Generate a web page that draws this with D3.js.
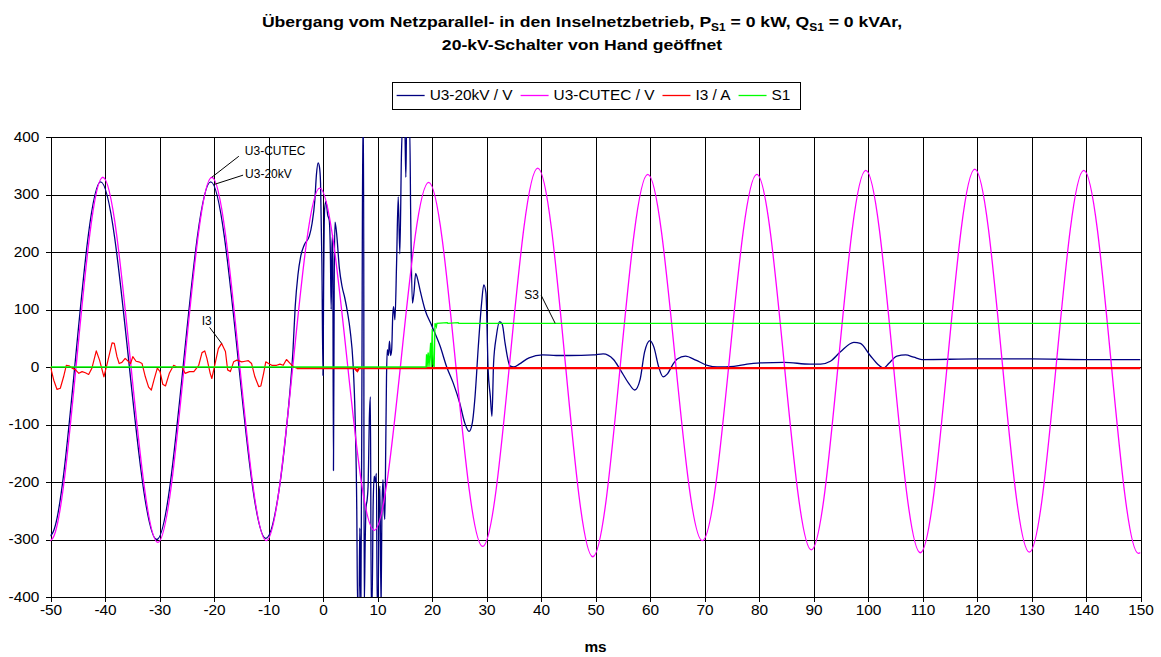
<!DOCTYPE html>
<html>
<head>
<meta charset="utf-8">
<script src="https://cdn.jsdelivr.net/npm/d3@7"></script>
<style>
  body { margin: 0; background: #fff; }
  svg { display: block; }
</style>
</head>
<body>
<svg id="chart" width="1161" height="657"></svg>
<script>
// ---- Tick labels --------------------------------------------------------
const xTickValues = [-50, -40, -30, -20, -10, 0, 10, 20, 30, 40, 50, 60, 70, 80, 90, 100, 110, 120, 130, 140, 150];
const yTickValues = [-400, -300, -200, -100, 0, 100, 200, 300, 400];

// ---- Series (time in ms, value) -----------------------------------------
// U3-CUTEC: voltage extremes of the 50 Hz wave
const u3Cutec = [
  [-50.3, -304], [-49.6, -298], [-40.4, 330], [-30.3, -305], [-20.4, 330], [-10.4, -302], [-0.6, 311],
  [9.4, -284], [19.4, 321], [29.3, -312], [39.4, 346], [49.5, -330], [59.6, 335],
  [69.6, -302], [79.6, 335], [89.6, -318], [99.6, 342], [109.6, -323], [119.6, 344],
  [129.6, -322], [139.6, 342], [149.6, -324], [150, -323]
];

// U3-20kV: grid-side voltage, collapsing after the breaker opens
const u3Grid = [
  [-50.4, -296], [-49.7, -290], [-40.8, 322], [-30.5, -300], [-20.6, 322], [-10.5, -298],
  [-8.0, -210], [-6.8, -115], [-6.0, -35], [-5.5, 30], [-5.1, 105], [-4.6, 160], [-4.1, 192],
  [-3.4, 213], [-2.5, 228], [-2.0, 250], [-1.5, 290], [-1.2, 335], [-0.9, 355], [-0.65, 348],
  [-0.45, 320], [-0.2, 180], [0.0, -15], [0.12, 150], [0.3, 275], [0.55, 288], [0.85, 265],
  [1.15, 255], [1.35, 200], [1.5, 100], [1.65, 210], [1.78, 230], [1.92, -180], [2.06, 150],
  [2.2, 252], [2.5, 232], [3.0, 172], [3.5, 140], [4.0, 120], [4.5, 95], [5.0, 62], [5.5, 8],
  [5.9, -90], [6.2, -250], [6.35, -420], [6.6, -420], [6.75, -280], [6.95, -420], [7.15, 0],
  [7.3, 420], [7.45, 420], [7.55, -420], [7.75, -300], [7.9, -243], [8.1, -231], [8.3, -200],
  [8.5, -90], [8.7, -52], [8.85, -420], [9.0, -420], [9.2, -240], [9.4, -190], [9.6, -200],
  [9.8, -185], [9.95, -420], [10.1, -420], [10.3, -230], [10.45, -207], [10.65, -420],
  [10.8, -260], [11.0, -196], [11.2, -250], [11.35, -265], [11.5, -150], [11.65, -20],
  [11.8, 30], [12.0, 20], [12.2, 45], [12.4, 20], [12.6, 30], [12.8, 90], [12.95, 105],
  [13.2, 82], [13.5, 180], [13.8, 296], [14.1, 197], [14.4, 372], [14.6, 420], [15.0, 420],
  [15.2, 330], [15.35, 420], [15.9, 420], [16.1, 256], [16.4, 111], [16.7, 130], [17.0, 163],
  [17.3, 155], [17.8, 134], [18.7, 100], [20.0, 71], [21.5, 36], [22.7, 0], [23.9, -28],
  [25.1, -63], [26.0, -97], [26.8, -112], [27.4, -97], [27.9, -51], [28.5, 36], [29.1, 111],
  [29.5, 143], [29.9, 129], [30.3, -5], [30.7, -51], [31.0, -86], [31.3, 7], [31.8, 53],
  [32.4, 79], [32.9, 74], [33.4, 42], [34.3, 2], [35.0, 0], [36.0, 5], [37.8, 16], [40.3, 21],
  [42.8, 20], [45.2, 20], [49.6, 21], [51.4, 23], [53.3, 13], [54.5, -4], [56.0, -27],
  [57.2, -40], [58.2, -21], [59.0, 26], [60.0, 46], [60.7, 35], [61.6, 0], [62.4, -17],
  [63.2, -12], [64.1, 3], [65.0, 14], [66.5, 19], [68.4, 12], [70.5, 3], [72.3, 0], [75.4, 1],
  [77.8, 5], [80.3, 7], [84.6, 8], [89.4, 5], [91.3, 5], [93.1, 10], [94.9, 26], [97.4, 43],
  [98.6, 41], [100.4, 20], [102.0, 3], [102.9, -2], [103.8, 6], [105.3, 19], [106.9, 21],
  [108.4, 17], [109.9, 13], [120, 14], [130, 14], [140, 13], [150, 13]
];

// I3: phase current, drops to zero when the breaker opens
const i3 = [
  [-50, 0], [-49.4, -23], [-48.8, -39], [-48.2, -37], [-47.6, -17], [-47.1, 3], [-46.6, 2],
  [-46.0, -2], [-45.4, -5], [-44.8, -11], [-44.2, -8], [-43.6, -10], [-43.0, -13], [-42.4, -2],
  [-41.6, 28], [-41.0, 12], [-40.2, -17], [-39.6, 6], [-38.7, 42], [-38.3, 41], [-37.8, 18],
  [-37.4, 6], [-36.9, 8], [-36.3, 15], [-35.3, 6], [-34.9, 18], [-34.3, 10], [-33.8, 9],
  [-33.2, 6], [-32.6, -17], [-32.0, -35], [-31.5, -40], [-31.0, -22], [-30.4, -2], [-29.9, -8],
  [-29.4, -30], [-28.9, -33], [-28.2, -11], [-27.4, 3], [-26.8, 0], [-25.9, 0], [-25.3, -11],
  [-24.5, -8], [-23.7, -8], [-22.8, 3], [-22.2, 25], [-21.7, 28], [-21.3, 15], [-20.7, -11],
  [-20.4, -20], [-19.8, 6], [-19.2, 32], [-18.6, 41], [-17.9, 27], [-17.5, -5], [-17.0, -8],
  [-16.4, 9], [-15.8, 12], [-14.9, 9], [-14.3, 10], [-13.7, 11], [-13.1, 6], [-12.5, -17],
  [-11.8, -34], [-11.4, -33], [-10.9, -11], [-10.5, 9], [-10.0, 6], [-9.4, 3], [-8.5, 3],
  [-7.9, 5], [-7.3, 3], [-6.7, 13], [-6.0, 6], [-5.4, 0], [-4.8, -2], [5.8, -2], [6.3, -7],
  [6.6, -2], [150, -2]
];

// S1: switch signal
const s1 = [
  [-50, 0], [18.9, 0], [19.0, 22], [19.1, 0], [19.3, 25], [19.45, 0], [19.75, 42], [19.85, 0],
  [20.05, 66], [20.2, 5], [20.4, 0], [20.55, 76], [20.8, 70], [20.9, 76], [22.8, 77], [22.9, 76],
  [24.8, 77], [24.9, 76], [150, 76]
];

const seriesNames = ["U3-20kV / V", "U3-CUTEC / V", "I3 / A", "S1"];
const seriesColors = ["#000080", "#ff00ff", "#ff0000", "#00ff00"];

// ---- Layout ------------------------------------------------------------
const FONT = "'Liberation Sans', Arial, sans-serif";
const SX = 1.1;               // horizontal stretch of the lettering
const plot = { left: 50.5, right: 1140.5, top: 137, bottom: 597 };

const svg = d3.select("#chart").attr("font-family", FONT);
svg.append("rect").attr("width", 1161).attr("height", 657).attr("fill", "#fff");

const x = d3.scaleLinear().domain([-50, 150]).range([plot.left, plot.right]);
const y = d3.scaleLinear().domain([-400, 400]).range([plot.bottom, plot.top]);

function stretchText(parent, px, py, sx) {
  return parent.append("text").attr("transform", `translate(${px},${py}) scale(${sx},1)`);
}

// ---- Title ---------------------------------------------------------------
const title = svg.append("g").attr("font-weight", "bold").attr("font-size", 15.5).attr("fill", "#000");
const t1 = stretchText(title, 582, 27, 1.135).attr("text-anchor", "middle");
t1.append("tspan").text("Übergang vom Netzparallel- in den Inselnetzbetrieb, P");
t1.append("tspan").attr("font-size", 10.5).attr("dy", 3.5).text("S1");
t1.append("tspan").attr("dy", -3.5).text(" = 0 kW, Q");
t1.append("tspan").attr("font-size", 10.5).attr("dy", 3.5).text("S1");
t1.append("tspan").attr("dy", -3.5).text(" = 0 kVAr,");
stretchText(title, 582, 50, 1.135).attr("text-anchor", "middle").text("20-kV-Schalter von Hand geöffnet");

// ---- Grid ----------------------------------------------------------------
svg.append("g")
  .attr("transform", `translate(0,${plot.bottom})`)
  .call(d3.axisBottom(x).tickValues(xTickValues).tickSize(-(plot.bottom - plot.top)).tickFormat(""))
  .call(g => g.select(".domain").remove())
  .selectAll("line").attr("stroke", "#000").attr("shape-rendering", "crispEdges");

svg.append("g")
  .attr("transform", `translate(${plot.left},0)`)
  .call(d3.axisLeft(y).tickValues(yTickValues).tickSize(-(plot.right - plot.left)).tickFormat(""))
  .call(g => g.select(".domain").remove())
  .selectAll("line").attr("stroke", "#000").attr("shape-rendering", "crispEdges");

// ---- Axes ----------------------------------------------------------------
const xAxisG = svg.append("g")
  .attr("transform", `translate(0,${plot.bottom})`)
  .call(d3.axisBottom(x).tickValues(xTickValues).tickSize(5).tickSizeOuter(0).tickPadding(3)
    .tickFormat(d => String(d)));
xAxisG.attr("font-size", 14).attr("font-family", FONT);
xAxisG.selectAll("line, path").attr("stroke", "#000").attr("shape-rendering", "crispEdges");
xAxisG.selectAll("text").attr("fill", "#000").attr("transform", `scale(${SX},1)`);

const yAxisG = svg.append("g")
  .attr("transform", `translate(${plot.left},0)`)
  .call(d3.axisLeft(y).tickValues(yTickValues).tickSize(4.5).tickSizeOuter(0).tickPadding(6.7)
    .tickFormat(d => String(d)));
yAxisG.attr("font-size", 14).attr("font-family", FONT);
yAxisG.selectAll("line, path").attr("stroke", "#000").attr("shape-rendering", "crispEdges");
yAxisG.selectAll("text").attr("fill", "#000")
  .attr("x", -11.2 / SX).attr("transform", `scale(${SX},1)`);

// axis title
stretchText(svg, (plot.left + plot.right) / 2, 652, SX)
  .attr("text-anchor", "middle").attr("font-weight", "bold").attr("font-size", 14).text("ms");

// ---- Series ----------------------------------------------------------------
svg.append("clipPath").attr("id", "plot-clip")
  .append("rect")
  .attr("x", plot.left).attr("y", plot.top)
  .attr("width", plot.right - plot.left).attr("height", plot.bottom - plot.top);

const series = svg.append("g").attr("clip-path", "url(#plot-clip)").attr("fill", "none");

const smooth = d3.line().x(d => x(d[0])).y(d => y(d[1])).curve(d3.curveMonotoneX);
const straight = d3.line().x(d => x(d[0])).y(d => y(d[1]));

series.append("path").datum(u3Grid).attr("d", smooth)
  .attr("stroke", seriesColors[0]).attr("stroke-width", 1.3).attr("stroke-linejoin", "round");
series.append("path").datum(u3Cutec).attr("d", smooth)
  .attr("stroke", seriesColors[1]).attr("stroke-width", 1.3);
series.append("path").datum(i3).attr("d", straight)
  .attr("stroke", seriesColors[2]).attr("stroke-width", 1.2).attr("stroke-linejoin", "round");
series.append("path").datum(i3.filter(d => d[0] >= -4.8)).attr("d", straight)
  .attr("stroke", seriesColors[2]).attr("stroke-width", 2.2);
series.append("path").datum(s1).attr("d", straight)
  .attr("stroke", seriesColors[3]).attr("stroke-width", 1.3);

// ---- Annotations -------------------------------------------------------------
const annotations = [
  { text: "U3-CUTEC", at: [-20.4, 330], textOff: [33, -22], lineOff: [27, -21] },
  { text: "U3-20kV",  at: [-19.8, 318], textOff: [30, -6],  lineOff: [28, -9] },
  { text: "I3",       at: [-18.6, 41],  textOff: [-20, -18], lineOff: [-12, -16] },
  { text: "S3",       at: [42.6, 76],   textOff: [-31, -24], lineOff: [-14, -28] }
];
const notes = svg.append("g").attr("font-size", 12).attr("fill", "#000");
annotations.forEach(a => {
  const px = x(a.at[0]), py = y(a.at[1]);
  notes.append("line")
    .attr("x1", px).attr("y1", py)
    .attr("x2", px + a.lineOff[0]).attr("y2", py + a.lineOff[1])
    .attr("stroke", "#000").attr("stroke-width", 1);
  notes.append("text").attr("x", px + a.textOff[0]).attr("y", py + a.textOff[1]).text(a.text);
});

// ---- Legend ----------------------------------------------------------------
const legend = svg.append("g").attr("font-size", 14).attr("fill", "#000");
const pad = 5, sample = 28, gap = 5, spacing = 8, boxTop = 82, boxH = 27;
const items = seriesNames.map((name, i) => {
  const g = legend.append("g");
  const txt = stretchText(g, 0, 0, SX).text(name);
  const w = txt.node().getComputedTextLength() * SX;
  return { g, txt, w, color: seriesColors[i] };
});
const total = pad + d3.sum(items, d => sample + gap + d.w) + spacing * (items.length - 1) + 9;
const boxLeft = (plot.left + plot.right) / 2 - total / 2;
legend.insert("rect", ":first-child")
  .attr("x", Math.round(boxLeft) + 0.5).attr("y", boxTop + 0.5)
  .attr("width", Math.round(total)).attr("height", boxH)
  .attr("fill", "#fff").attr("stroke", "#000").attr("stroke-width", 1);
let cx = boxLeft + pad;
items.forEach(it => {
  it.g.append("line")
    .attr("x1", cx).attr("x2", cx + sample)
    .attr("y1", boxTop + 13.5).attr("y2", boxTop + 13.5)
    .attr("stroke", it.color).attr("stroke-width", 1.3);
  it.txt.attr("transform", `translate(${cx + sample + gap},${boxTop + 18}) scale(${SX},1)`);
  cx += sample + gap + it.w + spacing;
});
</script>
</body>
</html>
